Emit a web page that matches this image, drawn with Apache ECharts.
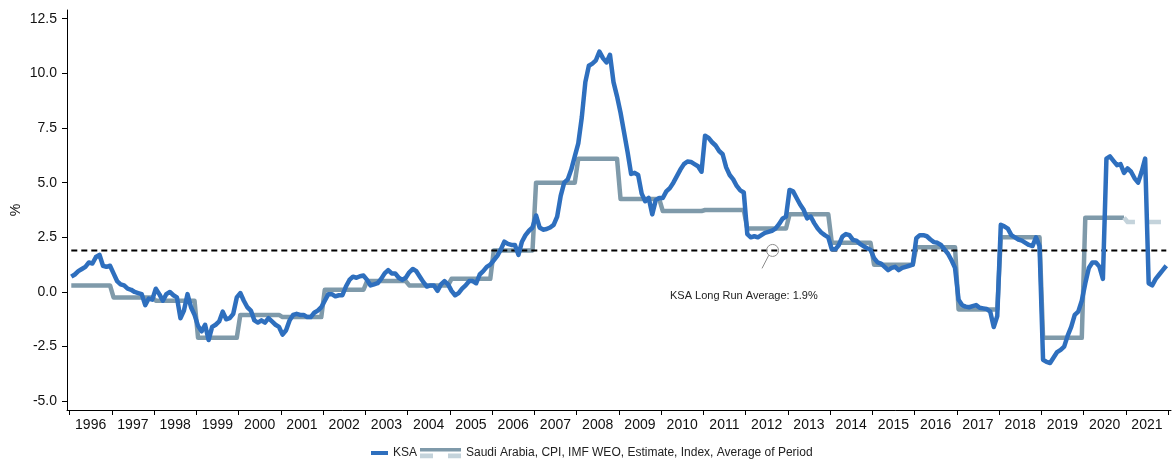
<!DOCTYPE html>
<html>
<head>
<meta charset="utf-8">
<script src="https://cdn.jsdelivr.net/npm/echarts@6/dist/echarts.min.js"></script>
<style>
  html, body { margin: 0; padding: 0; background: #fff; }
  #chart { width: 1173px; height: 459px; }
</style>
</head>
<body>
<div id="chart"></div>
<script>
// KSA CPI inflation, y/y %, monthly Jan 1996 - Dec 2021
const startYear = 1996
const ksaInflation = [
  0.7, 0.8, 0.95, 1.05, 1.15, 1.35, 1.3, 1.6, 1.7, 1.2, 1.15, 1.2,          // 1996
  0.85, 0.5, 0.35, 0.3, 0.15, 0.1, 0.0, -0.05, -0.1, -0.6, -0.3, -0.35,     // 1997
  0.15, -0.1, -0.4, -0.1, 0.0, -0.15, -0.25, -1.2, -0.85, -0.1, -0.7, -1.05, // 1998
  -1.55, -1.8, -1.5, -2.2, -1.6, -1.5, -1.35, -0.9, -1.25, -1.2, -1.0, -0.25, // 1999
  -0.05, -0.4, -0.7, -0.85, -1.3, -1.4, -1.3, -1.4, -1.2, -1.35, -1.5, -1.6, // 2000
  -1.95, -1.75, -1.3, -1.05, -1.0, -1.05, -1.05, -1.15, -1.15, -0.95, -0.85, -0.7, // 2001
  -0.4, -0.1, -0.1, -0.2, -0.15, -0.15, 0.25, 0.55, 0.7, 0.65, 0.72, 0.75,  // 2002
  0.55, 0.3, 0.35, 0.4, 0.6, 0.85, 1.0, 0.85, 0.85, 0.65, 0.55, 0.65,       // 2003
  0.9, 1.05, 0.95, 0.7, 0.45, 0.25, 0.3, 0.3, 0.05, 0.35, 0.5, 0.35,        // 2004
  0.05, -0.15, -0.05, 0.15, 0.3, 0.5, 0.5, 0.4, 0.8, 0.95, 1.15, 1.25,      // 2005
  1.45, 1.65, 1.95, 2.3, 2.2, 2.15, 2.15, 1.7, 2.3, 2.6, 2.8, 2.95,         // 2006
  3.5, 2.95, 2.85, 2.88, 2.95, 3.07, 3.45, 4.4, 5.0, 5.15, 5.6, 6.2,        // 2007
  6.8, 8.0, 9.6, 10.35, 10.45, 10.6, 11.0, 10.7, 10.5, 10.85, 9.6, 8.95,    // 2008
  8.2, 7.3, 6.4, 5.4, 5.45, 5.35, 4.5, 4.15, 4.3, 3.55, 4.2, 4.3,           // 2009
  4.3, 4.6, 4.75, 5.0, 5.3, 5.6, 5.85, 5.97, 5.95, 5.85, 5.75, 5.5,         // 2010
  7.15, 7.05, 6.85, 6.7, 6.45, 6.3, 5.7, 5.35, 5.15, 4.85, 4.65, 4.55,      // 2011
  2.65, 2.5, 2.55, 2.5, 2.6, 2.7, 2.75, 2.8, 2.9, 3.1, 3.35, 3.45,          // 2012
  4.67, 4.6, 4.3, 4.0, 3.76, 3.37, 3.45, 3.15, 2.9, 2.72, 2.6, 2.5,         // 2013
  1.95, 1.95, 2.15, 2.53, 2.65, 2.6, 2.38, 2.35, 2.2, 2.1, 2.0, 1.93,       // 2014
  1.55, 1.35, 1.3, 1.15, 1.0, 1.1, 1.15, 1.0, 1.1, 1.15, 1.2, 1.25,         // 2015
  2.46, 2.6, 2.6, 2.55, 2.4, 2.28, 2.25, 2.15, 1.95, 1.75, 1.45, 1.1,       // 2016
  -0.35, -0.6, -0.67, -0.7, -0.65, -0.6, -0.72, -0.75, -0.78, -0.9, -1.6, -1.1, // 2017
  3.07, 3.0, 2.9, 2.6, 2.5, 2.4, 2.35, 2.25, 2.15, 2.1, 2.5, 2.1,           // 2018
  -3.1, -3.2, -3.25, -3.0, -2.75, -2.65, -2.5, -2.0, -1.6, -1.05, -0.9, -0.4, // 2019
  0.4, 1.1, 1.35, 1.35, 1.16, 0.6, 6.1, 6.2, 6.0, 5.8, 5.85, 5.45,          // 2020
  5.65, 5.5, 5.2, 5.0, 5.5, 6.1, 0.4, 0.3, 0.6, 0.8, 1.0, 1.2               // 2021
]

// IMF WEO annual CPI (average of period)
const imfYears = [1996, 1997, 1998, 1999, 2000, 2001, 2002, 2003, 2004, 2005, 2006, 2007, 2008,
  2009, 2010, 2011, 2012, 2013, 2014, 2015, 2016, 2017, 2018, 2019, 2020]
const imfCpi = [0.3, -0.25, -0.4, -2.1, -1.05, -1.15, 0.1, 0.5, 0.3, 0.6, 1.9, 5.0, 6.1,
  4.25, 3.7, 3.75, 2.9, 3.55, 2.25, 1.25, 2.05, -0.8, 2.5, -2.1, 3.4]
const imfEstimateYear = 2021
const imfEstimate = 3.2

const longRunAverage = 1.9

const yTicks = [-5, -2.5, 0, 2.5, 5, 7.5, 10, 12.5]
const xTickYears = []
for (let y = 1996; y <= 2022; y++) xTickYears.push(y)

const ksaName = 'KSA'
const imfName = 'Saudi Arabia, CPI, IMF WEO, Estimate, Index, Average of Period'

const BLUE = '#2e6fbe'
const GRAY = '#7f9aaa'
const LIGHT = '#c4d3db'
const FONT = 'Liberation Sans, Arial, sans-serif'

// month index -> decimal year (middle of month)
const xOf = i => startYear + (i + 0.5) / 12

const ksaData = ksaInflation.map((v, i) => [xOf(i), v])

const imfData = []
imfYears.forEach((y, k) => {
  imfData.push([y + 0.5 / 12, imfCpi[k]])
  imfData.push([y + 11.5 / 12, imfCpi[k]])
})
const lastImf = imfData[imfData.length - 1]
const imfEstimateData = [
  lastImf,
  [imfEstimateYear + 0.5 / 12, imfEstimate],
  [imfEstimateYear + 11.5 / 12, imfEstimate]
]

const avgData = [[xOf(0), longRunAverage], [xOf(ksaInflation.length - 1), longRunAverage]]

// legend swatch: solid actual line over dashed estimate line
const legendIconSvg =
  '<svg xmlns="http://www.w3.org/2000/svg" width="41" height="11">' +
  '<rect x="0" y="0" width="41" height="4" fill="' + GRAY + '"/>' +
  '<rect x="0" y="6" width="13" height="5" fill="' + LIGHT + '"/>' +
  '<rect x="28" y="6" width="13" height="5" fill="' + LIGHT + '"/>' +
  '</svg>'

const chart = echarts.init(document.getElementById('chart'))

const option = {
  animation: false,
  textStyle: { fontFamily: FONT },
  grid: { left: 67, right: 2, top: 10, bottom: 49, outerBoundsMode: 'none' },
  legend: [
    {
      data: [ksaName],
      left: 371,
      top: 447,
      padding: 0,
      icon: 'rect',
      itemWidth: 17,
      itemHeight: 4,
      textStyle: { fontSize: 12, color: '#222', fontFamily: FONT }
    },
    {
      data: [{ name: imfName, icon: 'image://data:image/svg+xml;charset=utf-8,' + encodeURIComponent(legendIconSvg) }],
      left: 420,
      top: 447,
      padding: 0,
      itemWidth: 41,
      itemHeight: 11,
      textStyle: { fontSize: 12, color: '#222', fontFamily: FONT }
    }
  ],
  xAxis: {
    type: 'value',
    min: 1995.94,
    max: 2022.07,
    splitLine: { show: false },
    axisLine: { show: true, onZero: false, lineStyle: { color: '#000', width: 1 } },
    axisTick: { show: true, length: 5, customValues: xTickYears, lineStyle: { color: '#000' } },
    axisLabel: {
      customValues: xTickYears.slice(0, -1).map(y => y + 0.5),
      formatter: v => String(Math.floor(v)),
      fontSize: 14,
      color: '#111',
      margin: 8,
      fontFamily: FONT
    }
  },
  yAxis: {
    type: 'value',
    min: -5.4,
    max: 12.9,
    name: '%',
    nameLocation: 'middle',
    nameGap: 44,
    nameRotate: 90,
    nameMoveOverlap: false,
    nameTextStyle: { fontSize: 14, color: '#111', fontFamily: FONT },
    splitLine: { show: false },
    axisLine: { show: true, onZero: false, lineStyle: { color: '#000', width: 1 } },
    axisTick: { show: true, length: 5, customValues: yTicks, lineStyle: { color: '#000' } },
    axisLabel: {
      customValues: yTicks,
      formatter: v => v.toFixed(1),
      fontSize: 14,
      color: '#111',
      margin: 10,
      fontFamily: FONT
    }
  },
  series: [
    {
      name: imfName,
      type: 'line',
      data: imfData,
      showSymbol: false,
      z: 2,
      color: GRAY,
      lineStyle: { color: GRAY, width: 4.5, join: 'round' }
    },
    {
      name: imfName + ' (estimate)',
      type: 'line',
      data: imfEstimateData,
      showSymbol: false,
      z: 2,
      color: LIGHT,
      lineStyle: { color: LIGHT, width: 4.5, type: [13, 13], join: 'round' }
    },
    {
      name: 'Long run average',
      type: 'line',
      data: avgData,
      showSymbol: false,
      z: 3,
      color: '#000',
      lineStyle: { color: '#000', width: 2, type: [6, 4] },
      markPoint: {
        silent: true,
        data: [
          {
            coord: [2012.64, longRunAverage],
            symbol: 'circle',
            symbolSize: 12,
            itemStyle: { color: 'rgba(255,255,255,0)', borderColor: '#8c8c8c', borderWidth: 1 },
            label: { show: false }
          },
          {
            coord: [2011.96, -0.19],
            symbol: 'circle',
            symbolSize: 0,
            label: {
              show: true,
              position: 'inside',
              formatter: 'KSA Long Run Average: ' + longRunAverage + '%',
              fontSize: 11,
              color: '#222',
              fontFamily: FONT
            }
          }
        ]
      },
      markLine: {
        silent: true,
        symbol: 'none',
        label: { show: false },
        lineStyle: { color: '#8c8c8c', width: 1, type: 'solid' },
        data: [[{ coord: [2012.55, 1.68] }, { coord: [2012.39, 1.08] }]]
      }
    },
    {
      name: ksaName,
      type: 'line',
      data: ksaData,
      showSymbol: false,
      z: 4,
      color: BLUE,
      lineStyle: { color: BLUE, width: 4.5, join: 'round' }
    }
  ]
}

chart.setOption(option)
</script>
</body>
</html>
